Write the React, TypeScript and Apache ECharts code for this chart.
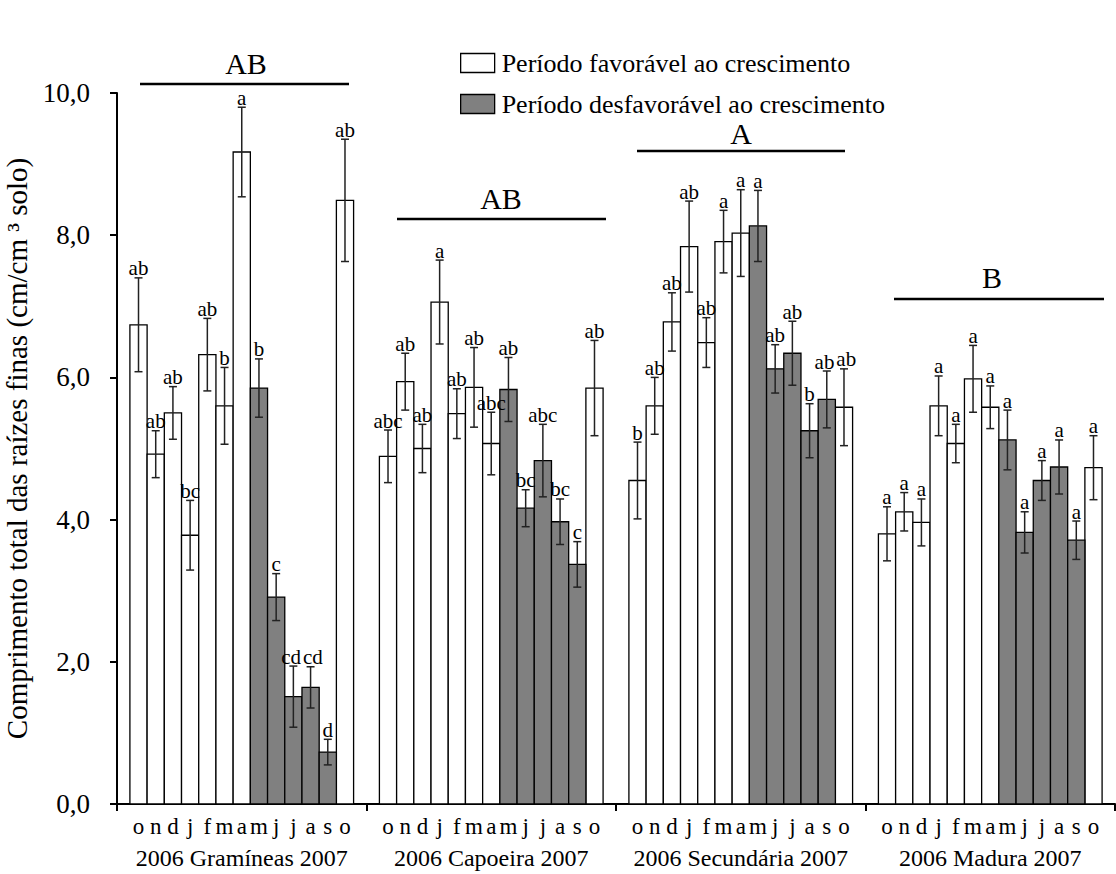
import React, { useEffect, useRef } from "react";
import * as echarts from "echarts";

const months = ["o", "n", "d", "j", "f", "m", "a", "m", "j", "j", "a", "s", "o"];
const unfavorable = [false, false, false, false, false, false, false, true, true, true, true, true, false];
const groupNames = ["2006 Gramíneas 2007", "2006 Capoeira 2007", "2006 Secundária 2007", "2006 Madura 2007"];
const groupLetters = ["AB", "AB", "A", "B"];

const graminMeans = [6.74, 4.92, 5.5, 3.78, 6.32, 5.6, 9.17, 5.85, 2.91, 1.51, 1.64, 0.73, 8.49];
const graminErr = [0.66, 0.33, 0.37, 0.49, 0.51, 0.54, 0.63, 0.41, 0.33, 0.43, 0.29, 0.18, 0.86];
const graminLetters = ["ab", "ab", "ab", "bc", "ab", "b", "a", "b", "c", "cd", "cd", "d", "ab"];

const capoeiraMeans = [4.89, 5.94, 5.0, 7.06, 5.49, 5.86, 5.07, 5.83, 4.16, 4.83, 3.97, 3.37, 5.85];
const capoeiraErr = [0.37, 0.4, 0.34, 0.59, 0.35, 0.56, 0.44, 0.45, 0.26, 0.51, 0.32, 0.32, 0.67];
const capoeiraLetters = ["abc", "ab", "ab", "a", "ab", "ab", "abc", "ab", "bc", "abc", "bc", "c", "ab"];

const secundariaMeans = [4.55, 5.6, 6.78, 7.84, 6.49, 7.91, 8.03, 8.13, 6.12, 6.34, 5.25, 5.69, 5.58];
const secundariaErr = [0.54, 0.4, 0.41, 0.64, 0.35, 0.44, 0.61, 0.5, 0.34, 0.45, 0.38, 0.4, 0.54];
const secundariaLetters = ["b", "ab", "ab", "ab", "ab", "a", "a", "a", "ab", "ab", "b", "ab", "ab"];

const maduraMeans = [3.8, 4.11, 3.96, 5.6, 5.07, 5.98, 5.58, 5.12, 3.82, 4.55, 4.74, 3.71, 4.73];
const maduraErr = [0.38, 0.27, 0.33, 0.42, 0.27, 0.47, 0.3, 0.42, 0.29, 0.28, 0.38, 0.27, 0.45];
const maduraLetters = ["a", "a", "a", "a", "a", "a", "a", "a", "a", "a", "a", "a", "a"];

const yTicks = [0, 2, 4, 6, 8, 10];

const allMeans = [graminMeans, capoeiraMeans, secundariaMeans, maduraMeans];
const allErr = [graminErr, capoeiraErr, secundariaErr, maduraErr];
const allLetters = [graminLetters, capoeiraLetters, secundariaLetters, maduraLetters];

const FONT = "'Liberation Serif', 'Times New Roman', serif";
const GROUP_SPAN = 14.5;
const GROUP_PAD = 0.75;
const LETTER_FS = 21;

type Item = { x: number; y: number; e: number; letter: string; month: string; g: number; i: number; unfav: boolean };

const items: Item[] = [];
allMeans.forEach((means, g) => {
  means.forEach((v, i) => {
    items.push({
      x: g * GROUP_SPAN + GROUP_PAD + i + 0.5,
      y: v,
      e: allErr[g][i],
      letter: allLetters[g][i],
      month: months[i],
      g,
      i,
      unfav: unfavorable[i],
    });
  });
});

const favItems = items.filter((d) => !d.unfav);
const unfavItems = items.filter((d) => d.unfav);

function barRender(fill: string) {
  return (params: any, api: any) => {
    const x = api.value(0);
    const y = api.value(1);
    const p0 = api.coord([x - 0.5, y]);
    const p1 = api.coord([x + 0.5, 0]);
    return {
      type: "rect",
      shape: { x: p0[0], y: p0[1], width: p1[0] - p0[0], height: p1[1] - p0[1] },
      style: { fill, stroke: "#000", lineWidth: 1.3 },
    };
  };
}

const textW = (s: string) => s.length * 0.47 * LETTER_FS;

export default function App() {
  const ref = useRef<HTMLDivElement>(null);
  useEffect(() => {
    document.body.style.margin = "0";
    if (!ref.current) return;
    const chart = echarts.init(ref.current, undefined, { renderer: "svg" });

    const errRender = (params: any, api: any) => {
      const k = params.dataIndex;
      const d = items[k];
      const top = api.coord([d.x, d.y + d.e]);
      const bot = api.coord([d.x, d.y - d.e]);
      const base = api.coord([d.x, 0]);
      const bw = api.size([1, 0])[0];
      // nudge letters apart when neighbouring labels would collide
      let dx = 0;
      [-1, 1].forEach((side) => {
        const n = items[k + side];
        if (!n || n.g !== d.g) return;
        const ny = api.coord([n.x, n.y + n.e])[1];
        if (Math.abs(ny - top[1]) < LETTER_FS) {
          const ov = (textW(d.letter) + textW(n.letter)) / 2 - bw + 2;
          if (ov > 0) dx -= (side * ov) / 2;
        }
      });
      const cap = 4;
      const stroke = { stroke: "#222", lineWidth: 1.5 };
      const children: any[] = [
        { type: "line", shape: { x1: top[0], y1: top[1], x2: bot[0], y2: bot[1] }, style: stroke },
        { type: "line", shape: { x1: top[0] - cap, y1: top[1], x2: top[0] + cap, y2: top[1] }, style: stroke },
        { type: "line", shape: { x1: bot[0] - cap, y1: bot[1], x2: bot[0] + cap, y2: bot[1] }, style: stroke },
        {
          type: "text",
          x: top[0] + dx,
          y: top[1] + 1,
          style: {
            text: d.letter,
            fill: "#000",
            font: `${LETTER_FS}px ${FONT}`,
            align: "center",
            verticalAlign: "bottom",
          },
        },
        {
          type: "text",
          x: base[0],
          y: base[1] + 22,
          style: {
            text: d.month,
            fill: "#000",
            font: `23px ${FONT}`,
            align: "center",
            verticalAlign: "middle",
          },
        },
      ];
      if (d.i === 6) {
        children.push({
          type: "text",
          x: base[0],
          y: base[1] + 54,
          style: {
            text: groupNames[d.g],
            fill: "#000",
            font: `24px ${FONT}`,
            align: "center",
            verticalAlign: "middle",
          },
        });
      }
      return { type: "group", children };
    };

    const annot = [
      { x1: 140, x2: 349, y: 84, tx: 246, ty: 78 },
      { x1: 397, x2: 606, y: 219, tx: 501, ty: 213 },
      { x1: 637, x2: 845, y: 151, tx: 741, ty: 148 },
      { x1: 894, x2: 1104, y: 299, tx: 992, ty: 292 },
    ];
    const graphic: any[] = [];
    annot.forEach((a, g) => {
      graphic.push({
        type: "line",
        shape: { x1: a.x1, y1: a.y, x2: a.x2, y2: a.y },
        style: { stroke: "#000", lineWidth: 2.5 },
      });
      graphic.push({
        type: "text",
        x: a.tx,
        y: a.ty,
        style: {
          text: groupLetters[g],
          fill: "#000",
          font: `30px ${FONT}`,
          align: "center",
          verticalAlign: "bottom",
        },
      });
    });

    chart.setOption({
      animation: false,
      backgroundColor: "#fff",
      grid: { left: 117, right: 1, top: 93, bottom: 70, containLabel: false, outerBoundsMode: "none" },
      legend: {
        orient: "vertical",
        left: 455,
        top: 45,
        itemWidth: 34,
        itemHeight: 19,
        itemGap: 15,
        icon: "rect",
        selectedMode: false,
        textStyle: { fontFamily: FONT, fontSize: 26, color: "#000", lineHeight: 20, padding: [0, 0, 0, 2] },
        data: [
          { name: "Período favorável ao crescimento", itemStyle: { color: "#fff", borderColor: "#000", borderWidth: 1.3 } },
          { name: "Período desfavorável ao crescimento", itemStyle: { color: "#808080", borderColor: "#000", borderWidth: 1.3 } },
        ],
      },
      xAxis: {
        type: "value",
        min: 0,
        max: GROUP_SPAN * 4,
        interval: GROUP_SPAN,
        axisLine: { show: true, lineStyle: { color: "#000", width: 2 } },
        axisTick: { show: true, inside: false, length: 7, lineStyle: { color: "#000", width: 2 } },
        axisLabel: { show: false },
        splitLine: { show: false },
      },
      yAxis: {
        type: "value",
        min: yTicks[0],
        max: yTicks[yTicks.length - 1],
        interval: 2,
        name: "Comprimento total das raízes finas (cm/cm ³ solo)",
        nameLocation: "middle",
        nameGap: 74,
        nameTextStyle: { fontFamily: FONT, fontSize: 29, color: "#000" },
        axisLine: { show: true, lineStyle: { color: "#000", width: 2 } },
        axisTick: { show: true, inside: false, length: 7, lineStyle: { color: "#000", width: 2 } },
        axisLabel: {
          fontFamily: FONT,
          fontSize: 27,
          color: "#000",
          margin: 27,
          formatter: (v: number) => v.toFixed(1).replace(".", ","),
        },
        splitLine: { show: false },
      },
      graphic,
      series: [
        {
          name: "Período favorável ao crescimento",
          type: "custom",
          renderItem: barRender("#ffffff"),
          itemStyle: { color: "#ffffff", borderColor: "#000" },
          data: favItems.map((d) => [d.x, d.y]),
          encode: { x: 0, y: 1 },
          z: 2,
        },
        {
          name: "Período desfavorável ao crescimento",
          type: "custom",
          renderItem: barRender("#808080"),
          itemStyle: { color: "#808080", borderColor: "#000" },
          data: unfavItems.map((d) => [d.x, d.y]),
          encode: { x: 0, y: 1 },
          z: 2,
        },
        {
          name: "erros",
          type: "custom",
          renderItem: errRender,
          data: items.map((d) => [d.x, d.y + d.e, d.y - d.e]),
          encode: { x: 0, y: [1, 2] },
          z: 4,
          silent: true,
        },
      ],
    });
    return () => chart.dispose();
  }, []);
  return <div ref={ref} style={{ width: 1116, height: 874 }} />;
}
